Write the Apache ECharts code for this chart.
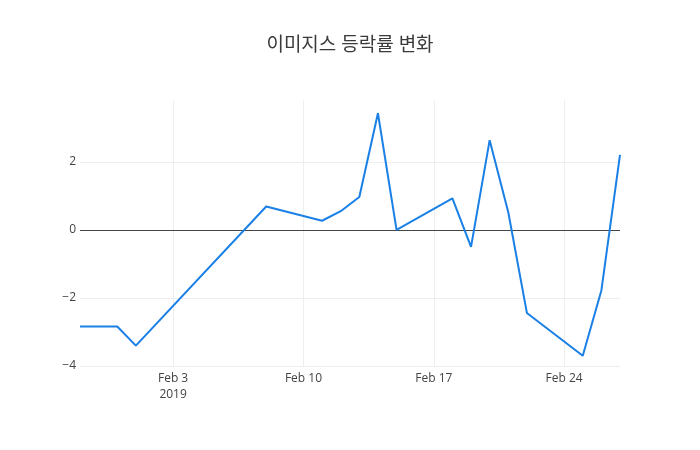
<!DOCTYPE html>
<html>
<head>
<meta charset="utf-8">
<script src="https://cdn.jsdelivr.net/npm/echarts@6/dist/echarts.min.js"></script>
<style>
html,body{margin:0;padding:0;background:#fff;}
#chart{width:700px;height:450px;}
</style>
</head>
<body>
<div id="chart"></div>
<script>
const titleText = '이미지스 등락률 변화';
const dates = ['2019-01-29','2019-01-31','2019-02-01','2019-02-08','2019-02-11','2019-02-12','2019-02-13','2019-02-14','2019-02-15','2019-02-18','2019-02-19','2019-02-20','2019-02-21','2019-02-22','2019-02-25','2019-02-26','2019-02-27'];
const changeRates = [-2.84,-2.84,-3.40,0.69,0.27,0.55,0.97,3.43,0.0,0.93,-0.50,2.64,0.52,-2.44,-3.70,-1.78,2.21];
const xTicks = ['2019-02-03','2019-02-10','2019-02-17','2019-02-24'];
const xRange = ['2019-01-29','2019-02-27'];
const yTicks = [-4,-2,0,2];

function ts(s){const p=s.split('-').map(Number);return Date.UTC(p[0],p[1]-1,p[2]);}
const months=['Jan','Feb','Mar','Apr','May','Jun','Jul','Aug','Sep','Oct','Nov','Dec'];
const tickTs = xTicks.map(ts);

const chart = echarts.init(document.getElementById('chart'));
const fontFam = '"Open Sans","Noto Sans CJK KR",sans-serif';
chart.setOption({
  animation:false,
  backgroundColor:'#fff',
  title:{
    text:titleText,
    left:'center',
    top:31,
    textStyle:{fontFamily:fontFam,fontSize:19,fontWeight:'normal',color:'#3a3a3a'}
  },
  grid:{left:80,right:80,top:100,bottom:84,containLabel:false},
  xAxis:{
    type:'value',
    min:ts(xRange[0]),
    max:ts(xRange[1]),
    axisLine:{show:false},
    axisTick:{show:false,customValues:tickTs},
    splitLine:{show:true,lineStyle:{color:'#eee',width:1}},
    axisLabel:{
      customValues:tickTs,
      margin:5,
      color:'#444',
      fontSize:12,
      fontFamily:fontFam,
      lineHeight:16,
      formatter:function(v){
        const d=new Date(v);
        let s=months[d.getUTCMonth()]+' '+d.getUTCDate();
        if(v===tickTs[0]) s+='\n'+d.getUTCFullYear();
        return s;
      }
    }
  },
  yAxis:{
    type:'value',
    min:yTicks[0],
    max:3.82,
    interval:2,
    axisLine:{show:false},
    axisTick:{show:false},
    splitLine:{show:true,showMaxLine:false,lineStyle:{color:'#eee',width:1}},
    axisLabel:{
      showMaxLabel:false,
      margin:4,
      color:'#444',
      fontSize:12,
      fontFamily:fontFam,
      formatter:function(v){return String(v).replace('-','\u2212');}
    }
  },
  series:[{
    type:'line',
    data:dates.map((d,i)=>[ts(d),changeRates[i]]),
    showSymbol:false,
    symbol:'none',
    lineStyle:{color:'#1a80e6',width:2},
    itemStyle:{color:'#1a80e6'},
    markLine:{
      silent:true,
      symbol:['none','none'],
      label:{show:false},
      lineStyle:{color:'#444',type:'solid',width:1},
      data:[{yAxis:0}],
      z:1
    }
  }]
});
</script>
</body>
</html>
